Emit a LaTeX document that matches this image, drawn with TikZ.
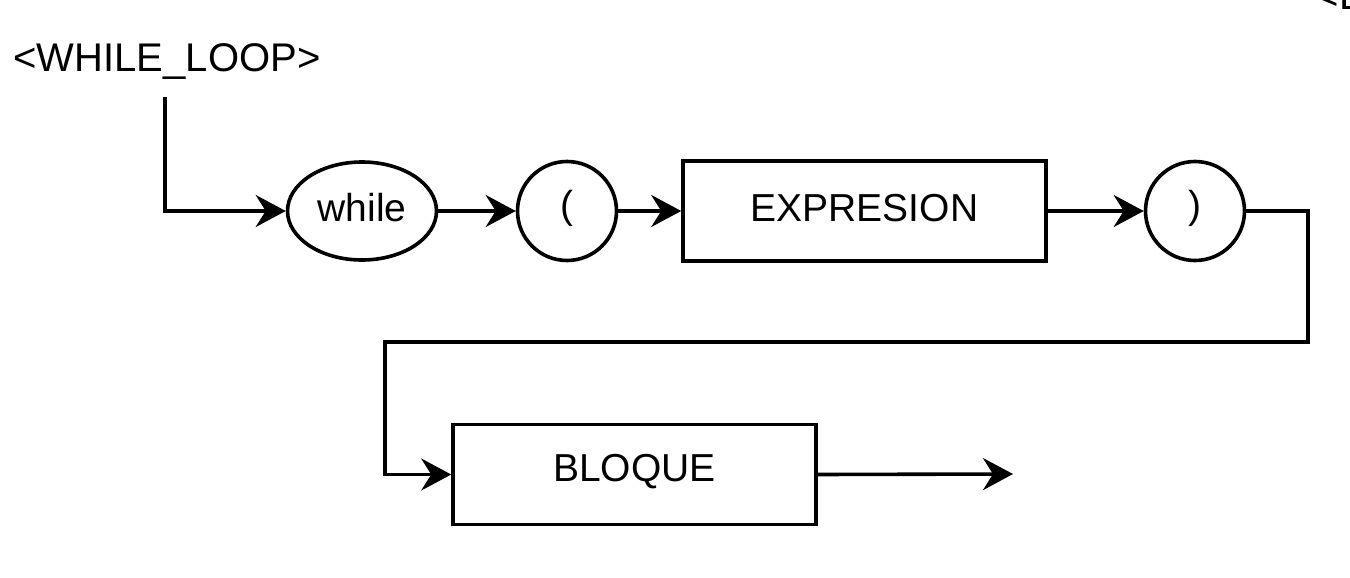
\documentclass[tikz,border=0pt]{standalone}
\usepackage{fontspec}
\setmainfont{Liberation Sans}
\usetikzlibrary{arrows.meta,shapes.geometric}
\newcommand{\uptext}[1]{\raisebox{3pt}[\height][\depth]{#1}}
\begin{document}
\begin{tikzpicture}[x=1pt,y=-1pt,line width=3.6pt,
  lbl/.style={font=\fontsize{39}{46}\selectfont,inner sep=0pt},
  termov/.style={draw,ellipse,lbl,minimum width=149pt,minimum height=98pt},
  termci/.style={draw,circle,lbl,minimum size=99pt},
  ntbox/.style={draw,rectangle,lbl,minimum width=363pt,minimum height=100pt},
  arr/.style={-{Stealth[length=30pt,width=32pt,inset=10pt]},line join=miter}]
\useasboundingbox (0,0) rectangle (1350,578);
\clip (0,0) rectangle (1350,578);
\node[lbl,font=\fontsize{40}{48}\selectfont] (title) at (167,62) {<WHILE\_LOOP>};
\node[lbl,font=\fontsize{40}{48}\selectfont,anchor=base west] (other) at (1314,10) {<BLOQUE>};
\node[termov] (wh) at (362,211) {\uptext{while}};
\node[termci] (lp) at (567,211) {\uptext{(}};
\node[ntbox] (expr) at (864.5,211) {\uptext{EXPRESION}};
\node[termci] (rp) at (1195,211) {\uptext{)}};
\node[ntbox] (blq) at (634.5,474.5) {\uptext{BLOQUE}};
\coordinate (s) at (165,97);
\coordinate (c1) at (1308,211);
\coordinate (c2) at (1308,342);
\coordinate (c3) at (385,342);
\coordinate (e) at (1013,474);
\draw[arr] (s) |- (wh.west);
\draw[arr] (wh) -- (lp);
\draw[arr] (lp) -- (expr);
\draw[arr] (expr) -- (rp);
\draw[arr] (rp.east) -- (c1) -- (c2) -- (c3) |- (blq.west);
\draw[arr] (blq.east) -- (e);
\end{tikzpicture}
\end{document}
